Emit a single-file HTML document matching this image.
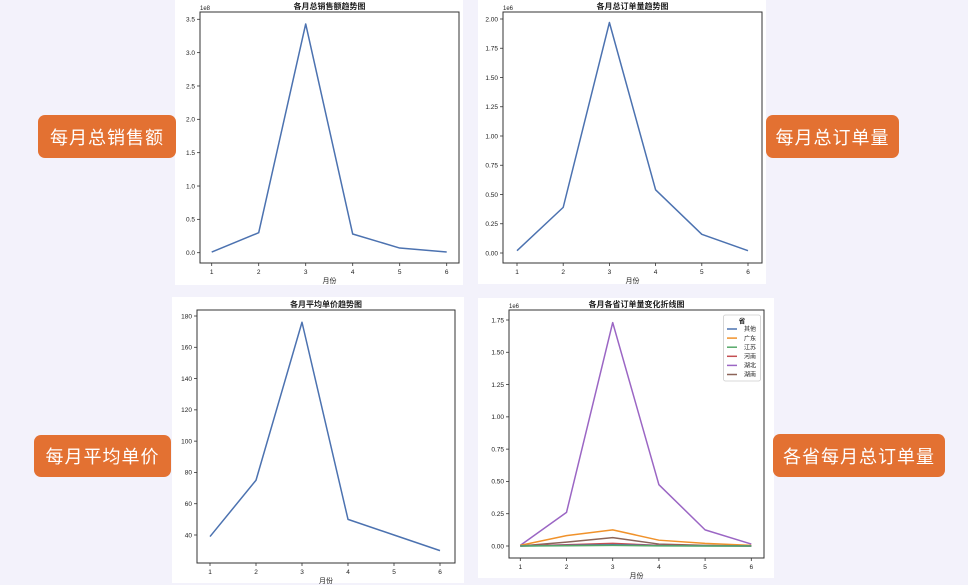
<!DOCTYPE html>
<html><head><meta charset="utf-8">
<style>
html,body{margin:0;padding:0;}
body{width:968px;height:585px;background:#F3F2FB;position:relative;overflow:hidden;font-family:"Liberation Sans","Noto Sans CJK SC",sans-serif;}
.panel{position:absolute;background:#fff;}
.tag{position:absolute;background:#E37132;color:#fff;border-radius:7px;font-size:18px;display:flex;align-items:center;justify-content:center;font-family:"Liberation Sans","Noto Sans CJK SC",sans-serif;letter-spacing:1px;}
svg{position:absolute;left:0;top:0;}
</style></head><body>
<div class="panel" style="left:175px;top:0;width:288px;height:285px"></div>
<div class="panel" style="left:478px;top:0;width:288px;height:284px"></div>
<div class="panel" style="left:172px;top:297px;width:292px;height:286px"></div>
<div class="panel" style="left:478px;top:298px;width:296px;height:280px"></div>

<div class="tag" style="left:38px;top:115px;width:138px;height:43px">每月总销售额</div>
<div class="tag" style="left:766px;top:115px;width:133px;height:43px">每月总订单量</div>
<div class="tag" style="left:34px;top:435px;width:137px;height:42px">每月平均单价</div>
<div class="tag" style="left:773px;top:434px;width:172px;height:43px">各省每月总订单量</div>

<svg id="c" width="968" height="585"></svg>
<script>
const months = [1,2,3,4,5,6];
const salesValues = [0.01,0.30,3.43,0.28,0.07,0.01];
const salesTicks = [0,0.5,1.0,1.5,2.0,2.5,3.0,3.5];
const salesTickLabels = ["0.0","0.5","1.0","1.5","2.0","2.5","3.0","3.5"];
const ordersValues = [0.02,0.39,1.97,0.54,0.16,0.02];
const ordersTicks = [0,0.25,0.5,0.75,1.0,1.25,1.5,1.75,2.0];
const ordersTickLabels = ["0.00","0.25","0.50","0.75","1.00","1.25","1.50","1.75","2.00"];
const priceValues = [39,75,176,50,40,30];
const priceTicks = [40,60,80,100,120,140,160,180];
const priceTickLabels = ["40","60","80","100","120","140","160","180"];
const provinces = ["其他","广东","江苏","河南","湖北","湖南"];
const provOther = [0.0,0.005,0.01,0.003,0.001,0.0];
const provGuangdong = [0.005,0.08,0.125,0.045,0.02,0.005];
const provJiangsu = [0.0,0.002,0.005,0.001,0.0,0.0];
const provHenan = [0.0,0.01,0.02,0.005,0.002,0.0];
const provHubei = [0.005,0.26,1.73,0.475,0.125,0.015];
const provHunan = [0.0,0.03,0.065,0.015,0.005,0.0];
const provTicks = [0,0.25,0.5,0.75,1.0,1.25,1.5,1.75];
const provTickLabels = ["0.00","0.25","0.50","0.75","1.00","1.25","1.50","1.75"];

const NS="http://www.w3.org/2000/svg";
const svg=document.getElementById('c');
function mk(tag,attrs,parent){const e=document.createElementNS(NS,tag);for(const k in attrs)e.setAttribute(k,attrs[k]);(parent||svg).appendChild(e);return e;}
function txt(s,x,y,size,anchor,parent,weight){const t=mk('text',{x:x,y:y,'font-size':size,'text-anchor':anchor,fill:'#222','font-family':'"Liberation Sans","Noto Sans CJK SC",sans-serif'},parent);if(weight)t.setAttribute('font-weight',weight);t.textContent=s;return t;}

function chart(cfg){
  const g=mk('g',{});
  
  
  const xs=v=>cfg.x1+(v-1)/(5)*(cfg.x6-cfg.x1);
  const ys=v=>cfg.yb+(v-cfg.tv0)/(cfg.tv1-cfg.tv0)*(cfg.yt-cfg.yb);
  const frame=mk('rect',{x:cfg.L,y:cfg.T,width:cfg.R-cfg.L,height:cfg.B-cfg.T,fill:'none',stroke:'#333','stroke-width':1},g);
  
  
  const title=txt(cfg.title,(cfg.L+cfg.R)/2,cfg.T-3,8,'middle',g,'bold');
  
  
  if(cfg.exp){const ex=txt(cfg.exp,cfg.L,cfg.T-2,6,'start',g);}
  cfg.ticks.forEach((t,i)=>{const y=ys(t);mk('line',{x1:cfg.L-3,x2:cfg.L,y1:y,y2:y,stroke:'#333','stroke-width':0.8},g);
    const l=txt(cfg.tickLabels[i],cfg.L-5,y+2.3,6.5,'end',g);});
  months.forEach(m=>{const x=xs(m);mk('line',{x1:x,x2:x,y1:cfg.B,y2:cfg.B+3,stroke:'#333','stroke-width':0.8},g);
    const l=txt(String(m),x,cfg.B+11,6.5,'middle',g);});
  const xl=txt('月份',(cfg.L+cfg.R)/2,cfg.B+20,7,'middle',g);
  
  
  cfg.series.forEach((s,si)=>{
    const p=mk('polyline',{points:s.vals.map((v,i)=>xs(months[i])+','+ys(v)).join(' '),fill:'none',stroke:s.color,'stroke-width':1.5,'stroke-linejoin':'round'},g);
    
    
  });
  return g;
}
const blue='#4C72B0';
chart({name:'sales-chart',title:'各月总销售额趋势图',exp:'1e8',L:200,R:459,T:12,B:263,x1:211.7,x6:446.7,tv0:0,tv1:3.5,yb:252.7,yt:19.3,ticks:salesTicks,tickLabels:salesTickLabels,series:[{vals:salesValues,color:blue,key:'sales'}]});
chart({name:'orders-chart',title:'各月总订单量趋势图',exp:'1e6',L:503,R:762,T:12,B:263,x1:517,x6:748,tv0:0,tv1:2.0,yb:253,yt:19,ticks:ordersTicks,tickLabels:ordersTickLabels,series:[{vals:ordersValues,color:blue,key:'orders'}]});
chart({name:'price-chart',title:'各月平均单价趋势图',exp:'',L:197,R:455,T:310,B:563,x1:210,x6:440,tv0:40,tv1:180,yb:535,yt:316,ticks:priceTicks,tickLabels:priceTickLabels,series:[{vals:priceValues,color:blue,key:'price'}]});
const provColors=['#4C72B0','#F0922B','#55A868','#C44E52','#9B66C4','#8C6458'];
const provSeries=[provOther,provGuangdong,provJiangsu,provHenan,provHubei,provHunan];
chart({name:'province-chart',title:'各月各省订单量变化折线图',exp:'1e6',L:509,R:764,T:310,B:558,x1:520.3,x6:751.3,tv0:0,tv1:1.75,yb:546,yt:320,ticks:provTicks,tickLabels:provTickLabels,
  series:[4,1,5,3,0,2].map(i=>({vals:provSeries[i],color:provColors[i],key:provinces[i]}))});

const lg=mk('g',{});


mk('rect',{x:723.5,y:315,width:37,height:66,fill:'#fff',stroke:'#ccc','stroke-width':0.8,rx:2},lg);
txt('省',742,323,6.5,'middle',lg,'bold');
provinces.forEach((p,i)=>{const y=329+i*9.1;
  const ln=mk('line',{x1:727,x2:737,y1:y,y2:y,stroke:provColors[i],'stroke-width':1.5},lg);
  
  
  const t=txt(p,744,y+2.2,6,'start',lg);
  
  
});
</script>
</body></html>
